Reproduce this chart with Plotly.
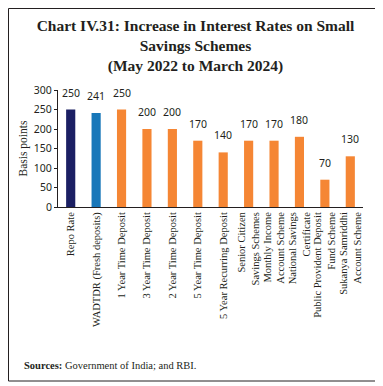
import plotly.graph_objects as go

categories = [
    "Repo Rate",
    "WADTDR (Fresh deposits)",
    "1 Year Time Deposit",
    "3 Year Time Deposit",
    "2 Year Time Deposit",
    "5 Year Time Deposit",
    "5 Year Recurring Deposit",
    "Senior Citizen<br>Savings Schemes",
    "Monthly Income<br>Account Scheme",
    "National Savings<br>Certificate",
    "Public Provident Deposit<br>Fund Scheme",
    "Sukanya Samriddhi<br>Account Scheme",
]
values = [250, 241, 250, 200, 200, 170, 140, 170, 170, 180, 70, 130]
bar_colors = ["#1b1f63", "#1877b9"] + ["#f58634"] * 10
y_ticks = [0, 50, 100, 150, 200, 250, 300]

serif = "Liberation Serif"
sans = "Noto Sans"
ink = "#231f20"

# page body has an 8px margin; figure sized to fit the window
W, H = 375, 378
L, R, T, B = 50, 20, 82, 179
pw, ph = W - L - R, H - T - B

def px_x(x):
    return (x - L) / pw

def px_y(y):
    return (H - B - y) / ph

fig = go.Figure(go.Bar(
    x=categories, y=values, marker_color=bar_colors, marker_line_width=0,
    textposition="none", hoverinfo="x+y",
))

label_annotations = [
    dict(x=c, y=v, text=str(v), xref="x", yref="y", showarrow=False,
         yanchor="bottom", yshift=8, font=dict(family=sans, size=10.5, color=ink))
    for c, v in zip(categories, values)
]

fig.update_layout(
    width=W, height=H,
    margin=dict(l=L, r=R, t=T, b=B),
    paper_bgcolor="white", plot_bgcolor="white",
    bargap=0.64,
    showlegend=False,
    title=dict(
        text="<b>Chart IV.31: Increase in Interest Rates on Small<br>Savings Schemes<br>(May 2022 to March 2024)</b>",
        x=0.5, xanchor="center", y=1 - 23 / H, yanchor="middle",
        font=dict(family=serif, size=15.5, color=ink),
    ),
    shapes=[dict(type="rect", xref="paper", yref="paper",
                 x0=px_x(0.5), x1=px_x(370), y0=px_y(373), y1=px_y(0.5),
                 line=dict(color=ink, width=1), layer="above")],
    annotations=label_annotations + [dict(
        text="<b>Sources:</b> Government of India; and RBI.",
        xref="paper", yref="paper", x=px_x(14), y=px_y(357), xanchor="left", yanchor="middle",
        showarrow=False, font=dict(family=serif, size=10.5, color=ink),
    )],
)

fig.update_xaxes(
    tickangle=-90, showline=True, linecolor=ink, linewidth=1, ticks="",
    tickfont=dict(family=serif, size=10.5, color=ink),
)
fig.update_yaxes(
    range=[0, 300], tickvals=y_ticks, showgrid=False, zeroline=False,
    showline=True, linecolor=ink, linewidth=1, ticks="outside", ticklen=3,
    tickcolor=ink,
    tickfont=dict(family=sans, size=10.5, color=ink),
    title=dict(text="Basis points", font=dict(family=serif, size=11.5, color=ink), standoff=3),
)

fig.write_html("out.html")
